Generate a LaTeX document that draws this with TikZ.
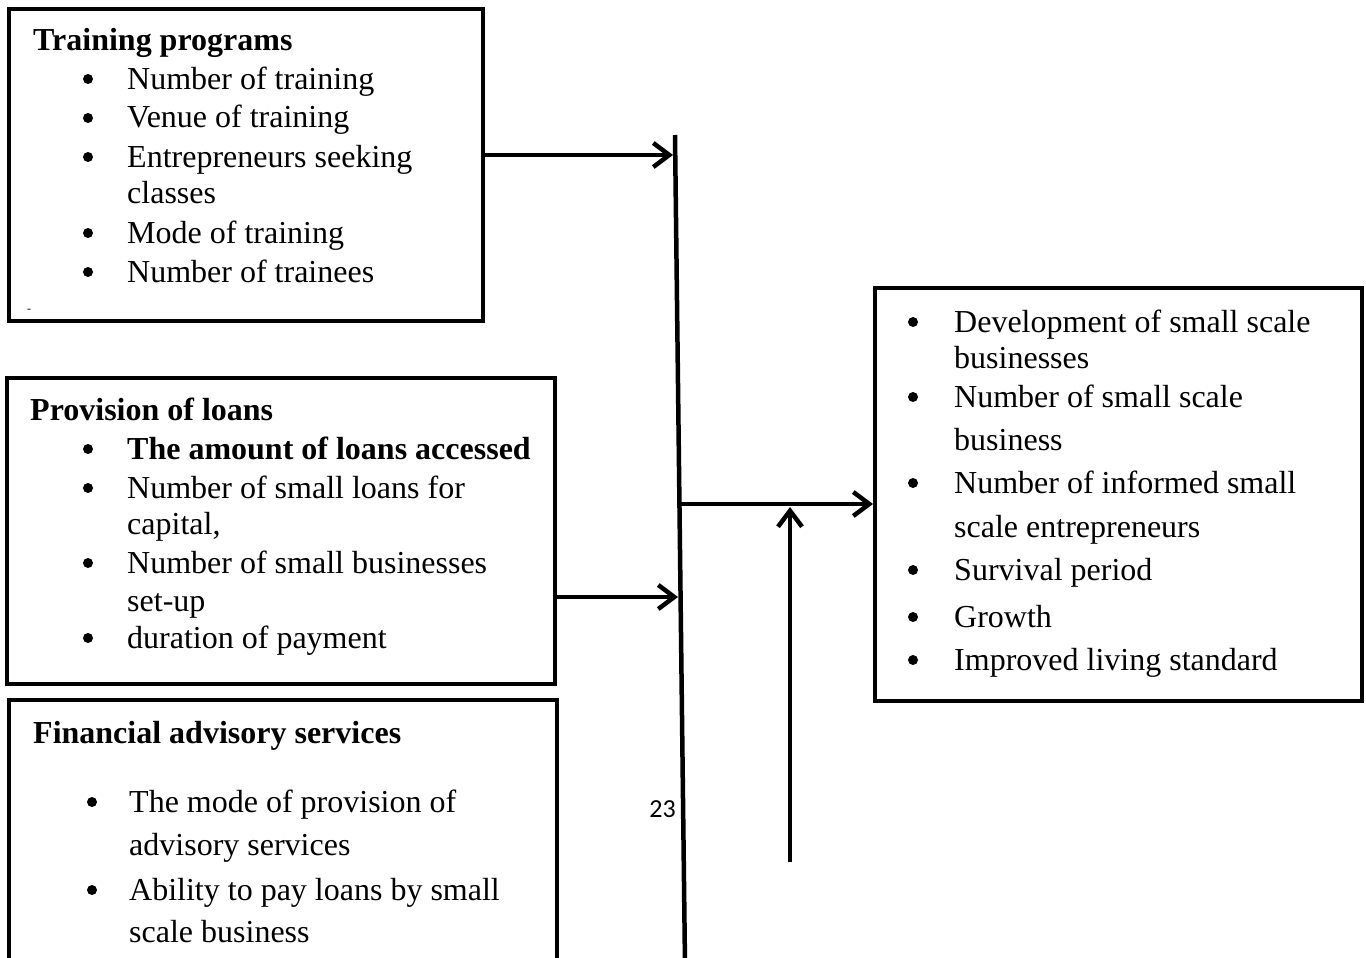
\documentclass[tikz,border=0pt]{standalone}
\usepackage{fontspec}
\setmainfont{Liberation Serif}
\newfontfamily\numfont{Carlito}
\usetikzlibrary{arrows.meta}
\begin{document}
\begin{tikzpicture}[x=1pt,y=-1pt,
  box/.style={draw, line width=4.5pt, anchor=north west, inner sep=0pt, outer sep=0pt},
  txt/.style={anchor=base west, inner sep=0pt, font=\fontsize{32}{38}\selectfont},
  ttl/.style={anchor=base west, inner sep=0pt, font=\fontsize{32}{38}\selectfont\bfseries},
  bul/.style={circle, fill, inner sep=0pt, minimum size=10pt},
  conn/.style={line width=4.5pt},
  arr/.style={line width=4.5pt, -{Straight Barb[length=16pt,width=24pt]}}]
\useasboundingbox (0,0) rectangle (1366,958);
\clip (0,0) rectangle (1366,958);
% boxes
\node[box, minimum width=474pt, minimum height=312pt] (b1) at (9,9) {};
\node[box, minimum width=548pt, minimum height=306pt] (b2) at (7,378) {};
\node[box, minimum width=548pt, minimum height=320pt] (b3) at (9,700) {};
\node[box, minimum width=487pt, minimum height=413pt] (r) at (875,288) {};
% box 1
\node[ttl] (b1t) at (33,51) {Training programs};
\node[bul] (b1b1) at (88,79) {};
\node[txt] (b1l1) at (127,89) {Number of training};
\node[bul] (b1b2) at (88,118) {};
\node[txt] (b1l2) at (127,128) {Venue of training};
\node[bul] (b1b3) at (88,157) {};
\node[txt] (b1l3) at (127,167) {Entrepreneurs seeking};
\node[txt] (b1l3b) at (127,203) {classes};
\node[bul] (b1b4) at (88,233) {};
\node[txt] (b1l4) at (127,243) {Mode of training};
\node[bul] (b1b5) at (88,272) {};
\node[txt] (b1l5) at (127,282) {Number of trainees};
\node[anchor=base, inner sep=0pt, font=\fontsize{12}{14}\selectfont] (dash) at (29,312) {-};
% box 2
\node[ttl] (b2t) at (30,420) {Provision of loans};
\node[bul] (b2b1) at (88,449) {};
\node[ttl] (b2l1) at (127,459) {The amount of loans accessed};
\node[bul] (b2b2) at (88,488) {};
\node[txt] (b2l2) at (127,498) {Number of small loans for};
\node[txt] (b2l2b) at (127,534) {capital,};
\node[bul] (b2b3) at (88,563) {};
\node[txt] (b2l3) at (127,573) {Number of small businesses};
\node[txt] (b2l3b) at (127,611) {set-up};
\node[bul] (b2b4) at (88,638) {};
\node[txt] (b2l4) at (127,648) {duration of payment};
% box 3
\node[ttl] (b3t) at (33,743) {Financial advisory services};
\node[bul] (b3b1) at (92,802) {};
\node[txt] (b3l1) at (129,812) {The mode of provision of};
\node[txt] (b3l1b) at (129,855) {advisory services};
\node[bul] (b3b2) at (92,890) {};
\node[txt] (b3l2) at (129,900) {Ability to pay loans by small};
\node[txt] (b3l2b) at (129,942) {scale business};
% right box
\node[bul] (rb1) at (913,322) {};
\node[txt] (rl1) at (954,332) {Development of small scale};
\node[txt] (rl1b) at (954,368) {businesses};
\node[bul] (rb2) at (913,397) {};
\node[txt] (rl2) at (954,407) {Number of small scale};
\node[txt] (rl2b) at (954,450) {business};
\node[bul] (rb3) at (913,483) {};
\node[txt] (rl3) at (954,493) {Number of informed small};
\node[txt] (rl3b) at (954,537) {scale entrepreneurs};
\node[bul] (rb4) at (913,570) {};
\node[txt] (rl4) at (954,580) {Survival period};
\node[bul] (rb5) at (913,617) {};
\node[txt] (rl5) at (954,627) {Growth};
\node[bul] (rb6) at (913,660) {};
\node[txt] (rl6) at (954,670) {Improved living standard};
% page number
\node[anchor=base east, inner sep=0pt, font=\numfont\fontsize{26}{30}\selectfont] (pg) at (676,817) {23};
% connectors
\coordinate (ltop) at (675,135);
\coordinate (lbot) at (685,965);
\draw[conn] (ltop) -- (lbot);
\coordinate (a1) at (673,155);
\draw[arr] (b1.east |- a1) -- (a1);
\coordinate (a2) at (678,597);
\draw[arr] (b2.east |- a2) -- (a2);
\coordinate (a3) at (677,504);
\coordinate (a3e) at (873,504);
\draw[arr] (a3) -- (a3e);
\coordinate (m) at (790,862);
\coordinate (mt) at (790,507);
\draw[arr] (m) -- (mt);
\end{tikzpicture}
\end{document}
